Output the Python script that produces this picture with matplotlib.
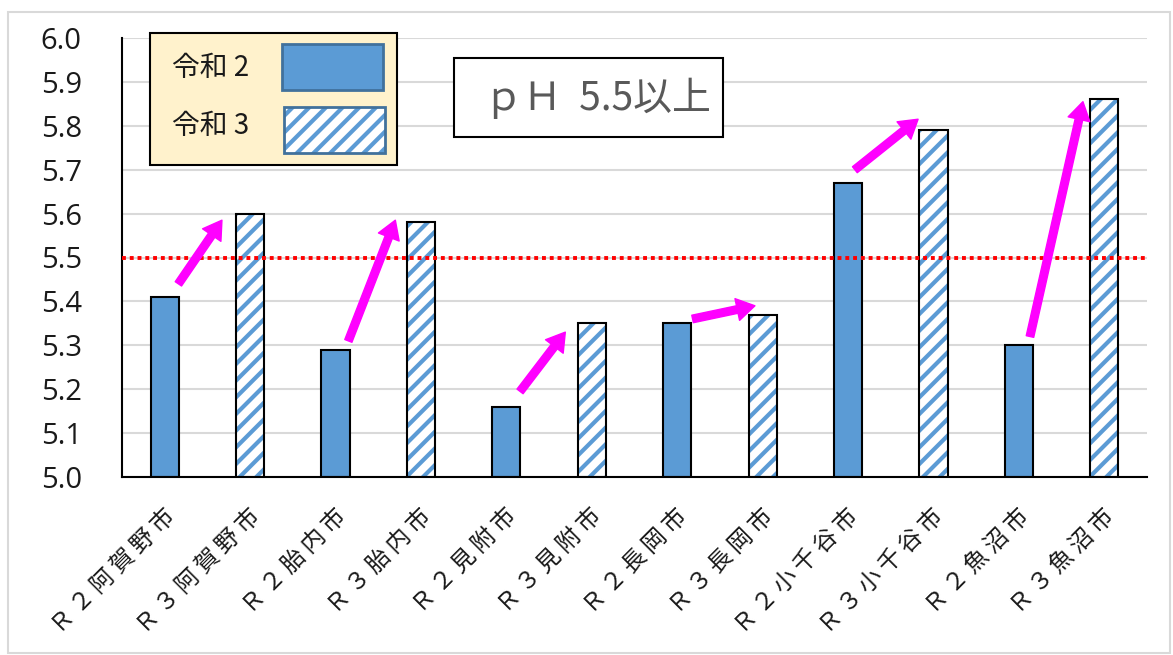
import matplotlib.pyplot as plt
import numpy as np
from matplotlib.patches import Rectangle
from matplotlib.transforms import ScaledTranslation

plt.rcParams['font.family'] = ['Noto Sans CJK JP', 'DejaVu Sans']
plt.rcParams['hatch.linewidth'] = 3.0

# pH by city, R2 / R3 alternating
labels = ['Ｒ２阿賀野市', 'Ｒ３阿賀野市', 'Ｒ２胎内市', 'Ｒ３胎内市',
          'Ｒ２見附市', 'Ｒ３見附市', 'Ｒ２長岡市', 'Ｒ３長岡市',
          'Ｒ２小千谷市', 'Ｒ３小千谷市', 'Ｒ２魚沼市', 'Ｒ３魚沼市']
r2_values = [5.41, 5.29, 5.16, 5.35, 5.67, 5.30]
r3_values = [5.60, 5.58, 5.35, 5.37, 5.79, 5.86]
threshold = 5.5
yticks = [5.0, 5.1, 5.2, 5.3, 5.4, 5.5, 5.6, 5.7, 5.8, 5.9, 6.0]

# change arrows (tail -> head) in data units
arrows = [((0.16, 5.44), (0.67, 5.585)),
          ((2.15, 5.31), (2.70, 5.585)),
          ((4.16, 5.195), (4.69, 5.33)),
          ((6.18, 5.36), (6.91, 5.39)),
          ((8.08, 5.70), (8.82, 5.815)),
          ((10.13, 5.32), (10.75, 5.855))]

BLUE = '#5B9BD5'
W, H = 1173, 655
fig = plt.figure(figsize=(W / 100, H / 100), dpi=100)
ax = fig.add_axes([122 / W, 1 - 477 / H, (1147 - 122) / W, (477 - 38) / H])

x = np.arange(len(labels))
x2, x3 = x[0::2], x[1::2]
base = yticks[0]
bw = 0.33

ax.bar(x2, np.array(r2_values) - base, bottom=base, width=bw,
       color=BLUE, edgecolor='black', linewidth=1.5, zorder=2)
ax.bar(x3, np.array(r3_values) - base, bottom=base, width=bw,
       color='white', edgecolor=BLUE, hatch='//', linewidth=0, zorder=2)
ax.bar(x3, np.array(r3_values) - base, bottom=base, width=bw,
       fill=False, edgecolor='black', linewidth=1.5, zorder=3)

ax.axhline(threshold, color='red', linestyle=(0, (1, 1)), linewidth=2.8, zorder=4)

for tail, head in arrows:
    ax.annotate('', xy=head, xytext=tail,
                arrowprops=dict(arrowstyle='simple,head_width=1.6,head_length=1.3,tail_width=0.55',
                                color='#FF00FF', shrinkA=0, shrinkB=0),
                zorder=5)

ax.set_xlim(-0.5, len(labels) - 0.5)
ax.set_ylim(yticks[0], yticks[-1])
ax.set_yticks(yticks)
ax.set_yticklabels([f'{v:.1f}' for v in yticks], family='Open Sans', fontsize=21,
                   color='#1a1a1a')
ax.yaxis.grid(True, color='#D9D9D9', linewidth=1.5)
ax.set_axisbelow(True)
ax.tick_params(axis='y', length=0, pad=29)
ax.tick_params(axis='x', length=0, pad=26)

# spread the characters a little with thin spaces
ax.set_xticks(x)
ax.set_xticklabels(['\u2009'.join(s) for s in labels], fontsize=17, rotation=45,
                   ha='right', va='center', rotation_mode='anchor', color='#1a1a1a')
shift = ScaledTranslation(0.07, 0, fig.dpi_scale_trans)
for lab in ax.get_xticklabels():
    lab.set_transform(lab.get_transform() + shift)

for side in ('top', 'right'):
    ax.spines[side].set_visible(False)
for side in ('left', 'bottom'):
    ax.spines[side].set_linewidth(1.5)
    ax.spines[side].set_color('black')

# overlay in pixel units for the legend, the note box and the outer frame
ov = fig.add_axes([0, 0, 1, 1], zorder=10)
ov.set_xlim(0, W)
ov.set_ylim(H, 0)
ov.axis('off')
ov.patch.set_alpha(0)

ov.add_patch(Rectangle((8, 12), 1162, 641, fill=False, edgecolor='#D9D9D9', linewidth=1.5))

ov.add_patch(Rectangle((150, 33), 247, 132, facecolor='#FFF2CC', edgecolor='black', linewidth=1.5))
ov.add_patch(Rectangle((282, 44), 101, 46, facecolor=BLUE, edgecolor='#41719C', linewidth=2))
ov.add_patch(Rectangle((284, 107), 101, 46, facecolor='white', edgecolor=BLUE, hatch='//', linewidth=0))
ov.add_patch(Rectangle((284, 107), 101, 46, fill=False, edgecolor='#41719C', linewidth=2))
ov.text(172, 68, '令和 2', fontsize=20, ha='left', va='center', color='#1a1a1a')
ov.text(172, 126, '令和 3', fontsize=20, ha='left', va='center', color='#1a1a1a')

ov.add_patch(Rectangle((454, 58), 269, 79, facecolor='white', edgecolor='black', linewidth=1.5))
ov.text(597, 98, 'ｐＨ  5.5以上', fontsize=28, ha='center', va='center', color='#595959')

fig.savefig('out.png', dpi=100)
